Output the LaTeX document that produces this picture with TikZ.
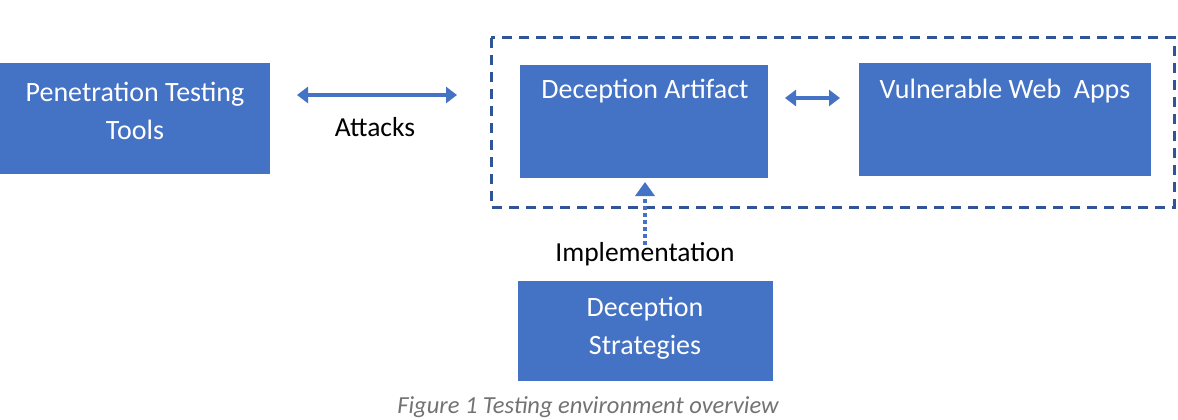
\documentclass[tikz,border=0pt]{standalone}
\usepackage{fontspec}
\setmainfont{Carlito}
\usetikzlibrary{arrows.meta}
\definecolor{bx}{HTML}{4472C4}
\definecolor{dk}{HTML}{2F5597}
\begin{document}
\begin{tikzpicture}[x=1pt,y=-1pt,
 lbl/.style={text=white,font=\fontsize{28}{38}\selectfont,align=center},
 arr/.style={bx,line width=4.5pt,{Triangle[length=11pt,width=16pt]}-{Triangle[length=11pt,width=16pt]}}]
\useasboundingbox (0,0) rectangle (1178,420);
\fill[white] (0,0) rectangle (1178,420);
\draw[dk,line width=3pt,dash pattern=on 10pt off 7pt] (491,38) rectangle (1174,207);
\fill[bx] (0,63) rectangle (270,174);
\fill[bx] (520,65) rectangle (768,178);
\fill[bx] (859,63) rectangle (1151,176);
\fill[bx] (518,281) rectangle (773,381);
\node[lbl] (pt) at (135,111) {Penetration Testing\\Tools};
\node[lbl] (da) at (645,91) {Deception Artifact};
\node[lbl] (vw) at (1005,91) {Vulnerable Web\ \ Apps};
\node[lbl] (ds) at (645,328) {Deception\\Strategies};
\coordinate (a1) at (297,95); \coordinate (a2) at (457,95);
\draw[arr] (a1) -- (a2);
\node[font=\fontsize{27.5}{30}\selectfont] (att) at (375,127) {Attacks};
\coordinate (b1) at (785,98); \coordinate (b2) at (840,98);
\draw[arr] (b1) -- (b2);
\coordinate (c1) at (645,245); \coordinate (c2) at (645,182);
\draw[bx,line width=4.5pt,dash pattern=on 4pt off 3pt,-{Triangle[length=14pt,width=19pt]}] (c1) -- (c2);
\node[font=\fontsize{27.5}{30}\selectfont] (imp) at (645,254) {Implementation};
\node[font=\itshape\fontsize{24.5}{28}\selectfont,text=black!55] (cap) at (588,407) {Figure 1 Testing environment overview};
\end{tikzpicture}
\end{document}
